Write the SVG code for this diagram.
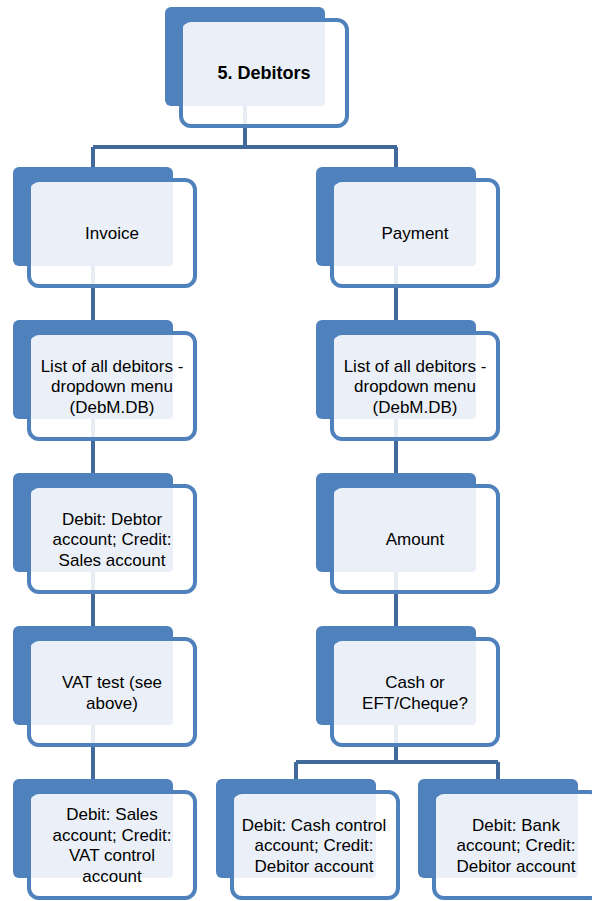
<svg xmlns="http://www.w3.org/2000/svg" width="592" height="901" viewBox="0 0 592 901">
  <style>
    .back { fill: #4F81BD; }
    .frame { fill: #FFFFFF; fill-opacity: 0.88; stroke: #4F81BD; stroke-width: 4; }
    .pane { fill: #EBF0F8; }
    .lbl { font-family: "Liberation Sans", Arial, sans-serif; font-size: 17px; fill: #000; text-anchor: middle; }
    .title { font-weight: bold; font-size: 18px; }
    .conn { fill: none; stroke: #41699C; stroke-width: 4; }
  </style>

  <!-- connectors (drawn first, nodes sit on top) -->
  <g id="connectors">
    <path class="conn" d="M245 100 V147 M93 147 H397 M93 147 V175 M396 147 V175"/>
    <path class="conn" d="M93 260 V328 M93 413 V481 M93 566 V634 M93 719 V787"/>
    <path class="conn" d="M396 260 V328 M396 413 V481 M396 566 V634"/>
    <path class="conn" d="M396 719 V762 M296 762 H498 M296 762 V787 M498 762 V787"/>
  </g>

  <!-- root -->
  <g id="n-root">
    <rect class="back" x="165" y="7" width="160" height="99" rx="6"/>
    <rect class="frame" x="181" y="20" width="166" height="106" rx="10"/>
    <rect class="pane" x="183" y="24" width="142" height="82" rx="4"/>
    <text class="lbl title" x="264" y="79">5. Debitors</text>
  </g>

  <!-- left branch: invoice -->
  <g id="n-invoice">
    <rect class="back" x="13" y="167" width="160" height="99" rx="6"/>
    <rect class="frame" x="29" y="180" width="166" height="106" rx="10"/>
    <rect class="pane" x="31" y="184" width="142" height="82" rx="4"/>
    <text class="lbl" x="112" y="239">Invoice</text>
  </g>
  <g id="n-inv-list">
    <rect class="back" x="13" y="320" width="160" height="99" rx="6"/>
    <rect class="frame" x="29" y="333" width="166" height="106" rx="10"/>
    <rect class="pane" x="31" y="337" width="142" height="82" rx="4"/>
    <text class="lbl" x="112" y="371.5">List of all debitors -</text>
    <text class="lbl" x="112" y="392">dropdown menu</text>
    <text class="lbl" x="112" y="412.5">(DebM.DB)</text>
  </g>
  <g id="n-inv-sales">
    <rect class="back" x="13" y="473" width="160" height="99" rx="6"/>
    <rect class="frame" x="29" y="486" width="166" height="106" rx="10"/>
    <rect class="pane" x="31" y="490" width="142" height="82" rx="4"/>
    <text class="lbl" x="112" y="524.5">Debit: Debtor</text>
    <text class="lbl" x="112" y="545">account; Credit:</text>
    <text class="lbl" x="112" y="565.5">Sales account</text>
  </g>
  <g id="n-inv-vat">
    <rect class="back" x="13" y="626" width="160" height="99" rx="6"/>
    <rect class="frame" x="29" y="639" width="166" height="106" rx="10"/>
    <rect class="pane" x="31" y="643" width="142" height="82" rx="4"/>
    <text class="lbl" x="112" y="688">VAT test (see</text>
    <text class="lbl" x="112" y="708.5">above)</text>
  </g>
  <g id="n-inv-vatpost">
    <rect class="back" x="13" y="779" width="160" height="99" rx="6"/>
    <rect class="frame" x="29" y="792" width="166" height="106" rx="10"/>
    <rect class="pane" x="31" y="796" width="142" height="82" rx="4"/>
    <text class="lbl" x="112" y="820">Debit: Sales</text>
    <text class="lbl" x="112" y="840.5">account; Credit:</text>
    <text class="lbl" x="112" y="861">VAT control</text>
    <text class="lbl" x="112" y="881.5">account</text>
  </g>

  <!-- right branch: payment -->
  <g id="n-payment">
    <rect class="back" x="316" y="167" width="160" height="99" rx="6"/>
    <rect class="frame" x="332" y="180" width="166" height="106" rx="10"/>
    <rect class="pane" x="334" y="184" width="142" height="82" rx="4"/>
    <text class="lbl" x="415" y="239">Payment</text>
  </g>
  <g id="n-pay-list">
    <rect class="back" x="316" y="320" width="160" height="99" rx="6"/>
    <rect class="frame" x="332" y="333" width="166" height="106" rx="10"/>
    <rect class="pane" x="334" y="337" width="142" height="82" rx="4"/>
    <text class="lbl" x="415" y="371.5">List of all debitors -</text>
    <text class="lbl" x="415" y="392">dropdown menu</text>
    <text class="lbl" x="415" y="412.5">(DebM.DB)</text>
  </g>
  <g id="n-pay-amount">
    <rect class="back" x="316" y="473" width="160" height="99" rx="6"/>
    <rect class="frame" x="332" y="486" width="166" height="106" rx="10"/>
    <rect class="pane" x="334" y="490" width="142" height="82" rx="4"/>
    <text class="lbl" x="415" y="545">Amount</text>
  </g>
  <g id="n-pay-method">
    <rect class="back" x="316" y="626" width="160" height="99" rx="6"/>
    <rect class="frame" x="332" y="639" width="166" height="106" rx="10"/>
    <rect class="pane" x="334" y="643" width="142" height="82" rx="4"/>
    <text class="lbl" x="415" y="688">Cash or</text>
    <text class="lbl" x="415" y="708.5">EFT/Cheque?</text>
  </g>
  <g id="n-pay-cash">
    <rect class="back" x="216" y="779" width="160" height="99" rx="6"/>
    <rect class="frame" x="232" y="792" width="166" height="106" rx="10"/>
    <rect class="pane" x="234" y="796" width="142" height="82" rx="4"/>
    <text class="lbl" x="314" y="830.5">Debit: Cash control</text>
    <text class="lbl" x="314" y="851">account; Credit:</text>
    <text class="lbl" x="314" y="871.5">Debitor account</text>
  </g>
  <g id="n-pay-bank">
    <rect class="back" x="418" y="779" width="160" height="99" rx="6"/>
    <rect class="frame" x="434" y="792" width="166" height="106" rx="10"/>
    <rect class="pane" x="436" y="796" width="142" height="82" rx="4"/>
    <text class="lbl" x="516" y="830.5">Debit: Bank</text>
    <text class="lbl" x="516" y="851">account; Credit:</text>
    <text class="lbl" x="516" y="871.5">Debitor account</text>
  </g>
</svg>
